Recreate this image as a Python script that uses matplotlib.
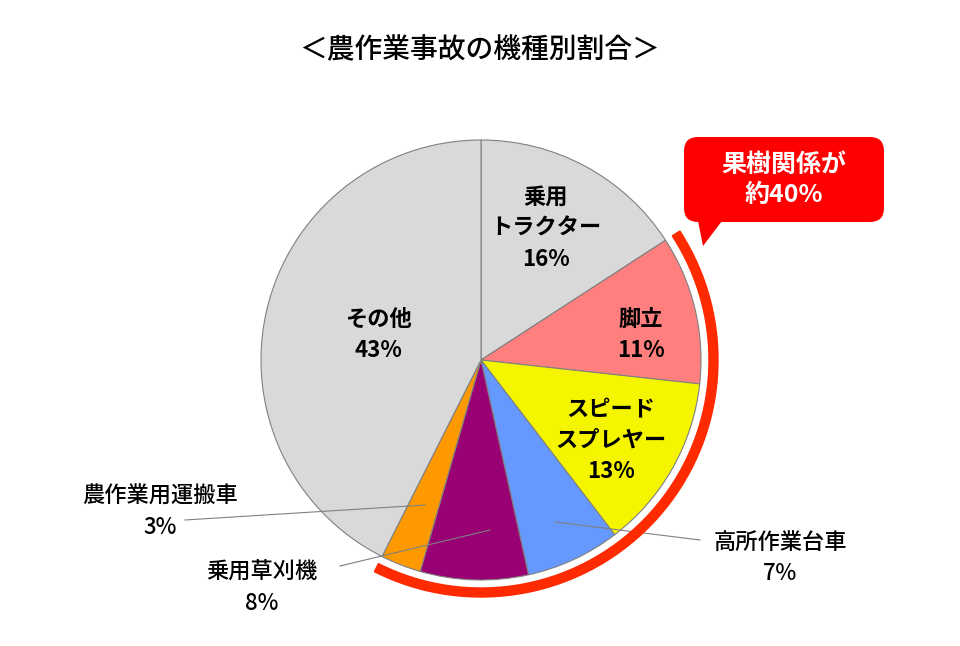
import matplotlib
matplotlib.use("Agg")
import matplotlib.pyplot as plt
from matplotlib.patches import Wedge, FancyBboxPatch, Polygon

plt.rcParams['font.family'] = ['Noto Sans CJK JP', 'DejaVu Sans']

labels = ["乗用\nトラクター\n16%", "脚立\n11%", "スピード\nスプレヤー\n13%", "", "", "", "その他\n43%"]
values = [16, 11, 13, 7, 8, 3, 43]
colors = ["#d9d9d9", "#ff7f7f", "#f5f500", "#6699ff", "#990073", "#ff9900", "#d9d9d9"]

H = 646
cx, cy, R = 481, H - 360, 220

fig = plt.figure(figsize=(9.6, 6.46), dpi=100)
ax = fig.add_axes([0, 0, 1, 1])

wedges, texts = ax.pie(values, colors=colors, startangle=90, counterclock=False,
                       center=(cx, cy), radius=R, labels=labels, labeldistance=0.6,
                       wedgeprops=dict(edgecolor="#808080", linewidth=0.8),
                       textprops=dict(fontsize=16, fontweight='bold', ha='center', va='center',
                                      linespacing=1.45))
ax.set_xlim(0, 960)
ax.set_ylim(0, H)
ax.set_aspect('equal')
ax.axis('off')
texts[0].set_position((cx + 65, H - 228))
texts[1].set_position((cx + 160, H - 335))
texts[2].set_position((cx + 130, H - 440))
texts[6].set_position((cx - 103, H - 335))

# red arc around the orchard-related slices
total = sum(values)
a_start = 90 - 360 * values[0] / total
a_end = 90 - 360 * sum(values[:6]) / total
ax.add_patch(Wedge((cx, cy), R + 17, a_end, a_start, width=9, color="#ff2a00", zorder=5))

# callout box
ax.add_patch(FancyBboxPatch((684, H - 222), 200, 85, boxstyle="round,pad=0,rounding_size=14",
                            facecolor="#ff0000", edgecolor="none", zorder=6))
ax.add_patch(Polygon([(698, H - 221), (722, H - 221), (703, H - 246)],
                     closed=True, facecolor="#ff0000", edgecolor="none", zorder=6))
ax.text(784, H - 180, "果樹関係が\n約40%", color="white", fontsize=18, fontweight='bold',
        ha='center', va='center', linespacing=1.3, zorder=7)

# outside labels with leader lines
lab = dict(fontsize=16, fontweight='medium', ha='center', va='center', linespacing=1.45)
ax.plot([185, 425], [H - 520, H - 505], color="#808080", lw=0.8)
ax.text(160, H - 512, "農作業用運搬車\n3%", **lab)
ax.plot([340, 490], [H - 566, H - 530], color="#808080", lw=0.8)
ax.text(262, H - 588, "乗用草刈機\n8%", **lab)
ax.plot([555, 700], [H - 522, H - 540], color="#808080", lw=0.8)
ax.text(780, H - 558, "高所作業台車\n7％", **lab)

ax.text(480, H - 50, "＜農作業事故の機種別割合＞", fontsize=20, fontweight='medium',
        ha='center', va='center')

fig.savefig("out.png", dpi=100)
